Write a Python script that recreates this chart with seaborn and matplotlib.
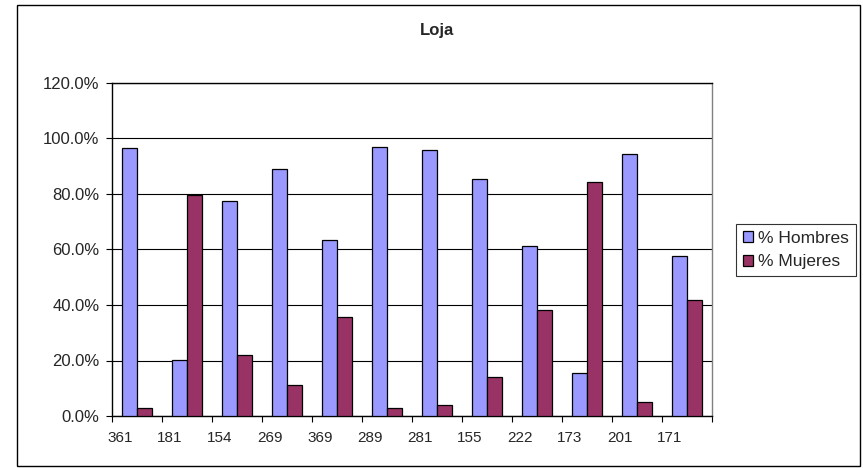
import numpy as np
import pandas as pd
import seaborn as sns
import matplotlib.pyplot as plt
from matplotlib.patches import Rectangle
from matplotlib.ticker import FuncFormatter, FixedLocator

sns.set_style("white")
plt.rcParams['font.family'] = ['Liberation Sans', 'DejaVu Sans']

# data
codigos = ["361", "181", "154", "269", "369", "289", "281", "155", "222", "173", "201", "171"]
hombres = [96.4, 20.1, 77.3, 88.9, 63.6, 97.0, 95.9, 85.4, 61.2, 15.6, 94.5, 57.6]
mujeres = [3.0, 79.8, 22.1, 11.2, 35.8, 3.0, 4.1, 14.2, 38.3, 84.2, 5.0, 41.9]

df = pd.DataFrame({
    "codigo": codigos * 2,
    "valor": hombres + mujeres,
    "serie": ["% Hombres"] * len(codigos) + ["% Mujeres"] * len(codigos),
})

fig = plt.figure(figsize=(8.63, 4.68), dpi=100)
ax = fig.add_axes([112 / 863, 1 - 416 / 468, 600 / 863, 333 / 468])

ax = sns.barplot(data=df, x="codigo", y="valor", hue="serie", ax=ax,
                 palette=["#9999FF", "#993366"], width=0.59,
                 edgecolor="black", linewidth=0.9, saturation=1, zorder=3)

ax.set_ylim(0, 120)
ax.set_xlim(-0.5, len(codigos) - 0.5)
ax.set_yticks(np.arange(0, 121, 20))
ax.yaxis.set_major_formatter(FuncFormatter(lambda v, p: f"{v:.1f}%"))
ax.grid(axis="y", color="black", linewidth=0.8, zorder=0)
ax.set_axisbelow(True)

# category labels sit left of centre, tick marks at the boundaries
ax.set_xticks(np.arange(len(codigos)) - 0.34)
ax.set_xticklabels(codigos)
ax.xaxis.set_minor_locator(FixedLocator(np.arange(len(codigos) + 1) - 0.5))
ax.tick_params(axis="x", which="major", length=0, pad=11, labelsize=11)
ax.tick_params(axis="x", which="minor", length=4, width=0.8, color="black", direction="out", bottom=True)
ax.tick_params(axis="y", length=4, width=0.8, color="black", direction="out", left=True, pad=5, labelsize=12)

ax.set_xlabel("")
ax.set_ylabel("")
for s in ax.spines.values():
    s.set_color("black")
    s.set_linewidth(1.0)
ax.spines["right"].set_color("#808080")

ax.legend(loc="center left", bbox_to_anchor=(727 / 863, 1 - 250 / 468), bbox_transform=fig.transFigure,
          frameon=True, fancybox=False, edgecolor="black", fontsize=12.5,
          handlelength=0.6, handleheight=0.6, handletextpad=0.3, borderpad=0.4, labelspacing=0.5)
ax.get_legend().get_frame().set_linewidth(0.8)

fig.text(437 / 863, 1 - 30 / 468, "Loja", ha="center", va="center", fontsize=12, fontweight="bold")

fig.patches.append(Rectangle((17 / 863, 2 / 468), 843 / 863, 461 / 468, transform=fig.transFigure,
                             fill=False, edgecolor="black", linewidth=1.0))

fig.savefig("out.png", dpi=100)
